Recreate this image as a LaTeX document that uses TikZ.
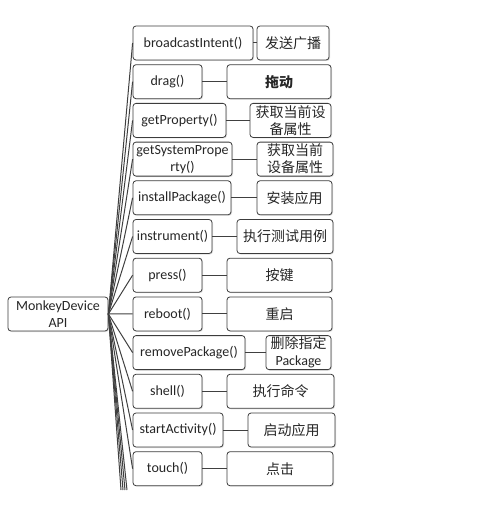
\documentclass[tikz,border=0pt]{standalone}
\usepackage{fontspec}
\setmainfont{Carlito}
\newfontfamily\cjk{Noto Sans CJK SC}
\usetikzlibrary{shadows}
\definecolor{edge}{HTML}{3C3C3C}
\definecolor{wire}{HTML}{404040}
\tikzset{
  box/.style={draw=edge, line width=0.8pt, rounded corners=3pt, fill=white,
    drop shadow={opacity=0.25, shadow xshift=1pt, shadow yshift=-1pt},
    minimum height=34pt, inner sep=1pt, align=center, text=black!85,
    font=\fontsize{14}{17}\selectfont},
  cbox/.style={box, font=\fontsize{14}{17}\selectfont\cjk},
  wirel/.style={draw=wire, line width=1pt}
}
\newcommand{\mybox}[6]{% style, name, left, right, cy, text
  \node[#1, minimum width={(#4-#3)*1pt}] (#2) at ({(#3+#4)/2}, #5) {#6};}
\begin{document}
\begin{tikzpicture}[x=1pt, y=-1pt]
\useasboundingbox (0,0) rectangle (483,508);
% root
\mybox{box}{root}{8}{108}{314}{MonkeyDevice\\API}
% method boxes
\mybox{box}{m1}{133}{253}{43}{broadcastIntent()}
\mybox{box}{m2}{133}{202}{81.7}{drag()}
\mybox{box}{m3}{133}{226}{120.4}{getProperty()}
\mybox{box}{m4}{133}{232}{159.1}{getSystemPrope\\rty()}
\mybox{box}{m5}{133}{231}{197.8}{installPackage()}
\mybox{box}{m6}{133}{212}{236.5}{instrument()}
\mybox{box}{m7}{133}{202}{275.2}{press()}
\mybox{box}{m8}{133}{202}{313.9}{reboot()}
\mybox{box}{m9}{133}{245}{352.6}{removePackage()}
\mybox{box}{m10}{133}{202}{391.3}{shell()}
\mybox{box}{m11}{133}{223}{430}{startActivity()}
\mybox{box}{m12}{133}{202}{468.7}{touch()}
% description boxes
\mybox{cbox}{d1}{257}{329}{43}{发送广播}
\mybox{cbox}{d2}{227}{331}{81.7}{\bfseries 拖动}
\mybox{cbox}{d3}{250}{331}{120.4}{获取当前设\\备属性}
\mybox{cbox}{d4}{257}{333}{159.1}{获取当前\\设备属性}
\mybox{cbox}{d5}{257}{332}{197.8}{安装应用}
\mybox{cbox}{d6}{237}{333}{236.5}{执行测试用例}
\mybox{cbox}{d7}{227}{332}{275.2}{按键}
\mybox{cbox}{d8}{227}{332}{313.9}{重启}
\mybox{cbox}{d9}{266}{331}{352.6}{删除指定\\{\fontspec{Carlito}Package}}
\mybox{cbox}{d10}{227}{334}{391.3}{执行命令}
\mybox{cbox}{d11}{248}{335}{430}{启动应用}
\mybox{cbox}{d12}{227}{333}{468.7}{点击}
% lines continuing beyond the visible area
\coordinate (x1) at (121,490);
\coordinate (x2) at (123,490);
\coordinate (x3) at (125,490);
\coordinate (x4) at (127,490);
\foreach \i in {1,...,12} {
  \draw[wirel] (root.east) -- (m\i.west);
  \draw[wirel] (m\i.east) -- (d\i.west);
}
\foreach \i in {1,...,4} {
  \draw[wirel] (root.east) -- (x\i);
}
\end{tikzpicture}
\end{document}
